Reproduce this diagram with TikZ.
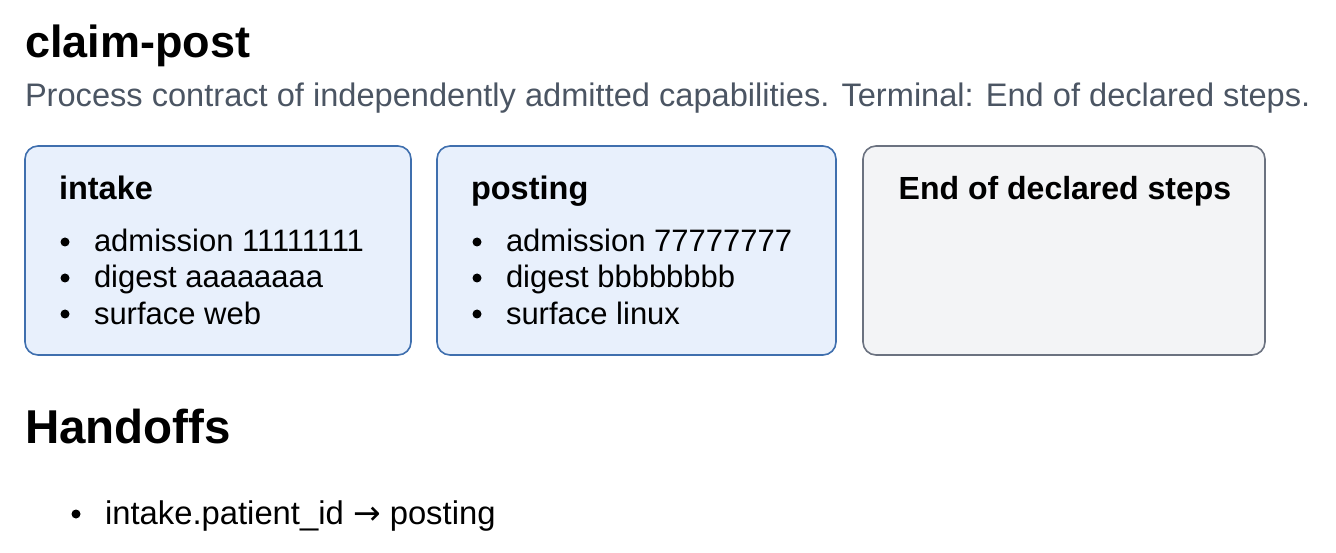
\documentclass[tikz,border=0pt]{standalone}
\usepackage{fontspec}
\setmainfont{Liberation Sans}
\newfontfamily\arrowfont{DejaVu Sans}
\definecolor{subgray}{HTML}{4B5563}
\definecolor{stepfill}{HTML}{E8F0FC}
\definecolor{stepdraw}{HTML}{3F6FAE}
\definecolor{endfill}{HTML}{F3F4F6}
\definecolor{enddraw}{HTML}{6B7280}
\tikzset{
  card/.style={draw, line width=1.6pt, rounded corners=13pt, inner sep=0pt},
  stepcard/.style={card, fill=stepfill, draw=stepdraw},
  endcard/.style={card, fill=endfill, draw=enddraw},
  txt/.style={anchor=base west, inner sep=0pt, outer sep=0pt},
  cardhead/.style={txt, font=\fontsize{32.5}{36}\selectfont\bfseries},
  item/.style={txt, font=\fontsize{31}{36}\selectfont},
  bulletdot/.style={circle, fill=black, inner sep=0pt, minimum size=9pt},
}
\begin{document}
\begin{tikzpicture}[x=1pt,y=-1pt]
\useasboundingbox (0,0) rectangle (1336,553);
% title
\node[txt, font=\fontsize{45}{50}\selectfont\bfseries] (title) at (25,58) {claim-post};
\node[txt, font=\fontsize{32.6}{38}\selectfont, text=subgray] (subtitle) at (25,107)
  {Process contract of independently admitted capabilities. Terminal: End of declared steps.};
% cards
\node[stepcard, minimum width=386pt, minimum height=209pt] (intake) at (218,250.5) {};
\node[stepcard, minimum width=399pt, minimum height=209pt] (posting) at (636.5,250.5) {};
\node[endcard, minimum width=402pt, minimum height=209pt] (end) at (1064,250.5) {};
% intake
\node[cardhead] (intakehead) at (59,200) {intake};
\node[bulletdot] (ib1) at (65,242) {};
\node[bulletdot] (ib2) at (65,278) {};
\node[bulletdot] (ib3) at (65,314) {};
\node[item] (ii1) at (94,252) {admission 11111111};
\node[item] (ii2) at (94,288) {digest aaaaaaaa};
\node[item] (ii3) at (94,324) {surface web};
% posting
\node[cardhead] (postinghead) at (471,200) {posting};
\node[bulletdot] (pb1) at (477,242) {};
\node[bulletdot] (pb2) at (477,278) {};
\node[bulletdot] (pb3) at (477,314) {};
\node[item] (pi1) at (506,252) {admission 77777777};
\node[item] (pi2) at (506,288) {digest bbbbbbbb};
\node[item] (pi3) at (506,324) {surface linux};
% end
\node[cardhead, anchor=base, font=\fontsize{32}{36}\selectfont\bfseries] (endhead) at (1065,200) {End of declared steps};
% handoffs
\node[txt, font=\fontsize{47.5}{54}\selectfont\bfseries] (handoffs) at (25,443) {Handoffs};
\node[bulletdot] (hb1) at (76,514) {};
\node[item, font=\fontsize{32.8}{36}\selectfont] (hi1) at (105,524) {intake.patient\_id {\arrowfont\fontsize{33}{36}\selectfont →} posting};
\end{tikzpicture}
\end{document}
